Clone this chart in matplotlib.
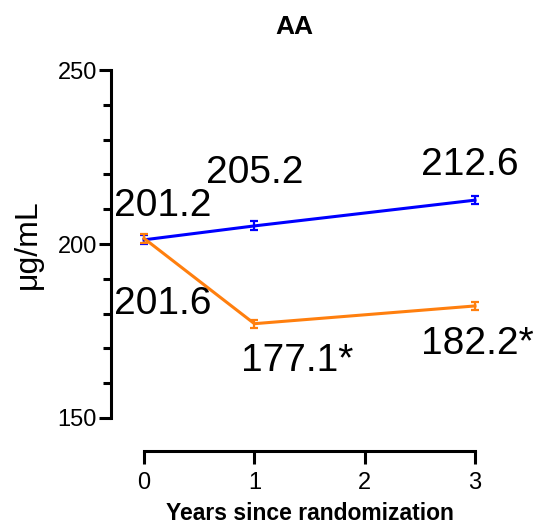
import matplotlib
matplotlib.use("Agg")
import matplotlib.pyplot as plt
from matplotlib.ticker import MultipleLocator

plt.rcParams["font.family"] = ["Liberation Sans", "DejaVu Sans"]

# ── data ───────────────────────────────────────────────────────────────────────
years = [0, 1, 3]
blue_vals = [201.2, 205.2, 212.6]
blue_err = [1.3, 1.3, 1.2]
orange_vals = [201.6, 177.1, 182.2]
orange_err = [1.2, 1.1, 1.1]
blue_labels = ["201.2", "205.2", "212.6"]
orange_labels = ["201.6", "177.1*", "182.2*"]

BLUE = "#0000FF"
ORANGE = "#FF7F0E"

# ── figure ─────────────────────────────────────────────────────────────────────
fig = plt.figure(figsize=(5.44, 5.32), dpi=100)
ax = fig.add_axes([0.204, 0.2143, 0.6793, 0.6541])

for vals, err, col in [(blue_vals, blue_err, BLUE), (orange_vals, orange_err, ORANGE)]:
    ax.errorbar(years, vals, yerr=err, color=col, lw=2.2, elinewidth=1.6,
                capsize=3, capthick=1.6, clip_on=False, zorder=3)

# value labels (offsets in points from each data point)
blue_offsets = [(13.7, 24.5), (0, 38), (-3.6, 25)]
orange_offsets = [(13.7, -47), (31, -26.6), (1.4, -27.5)]
for x, y, lab, off in zip(years, blue_vals, blue_labels, blue_offsets):
    ax.annotate(lab, (x, y), xytext=off, textcoords="offset points",
                ha="center", va="center", fontsize=28, color="black", zorder=5)
for x, y, lab, off in zip(years, orange_vals, orange_labels, orange_offsets):
    ax.annotate(lab, (x, y), xytext=off, textcoords="offset points",
                ha="center", va="center", fontsize=28, color="black", zorder=5)

ax.set_xlim(-0.3, 3.05)
ax.set_ylim(150, 250)
ax.set_xticks([0, 1, 2, 3])
ax.set_yticks([150, 200, 250])
ax.yaxis.set_minor_locator(MultipleLocator(10))

ax.spines[["top", "right"]].set_visible(False)
ax.spines["left"].set_linewidth(2.2)
ax.spines["bottom"].set_linewidth(2.2)
ax.spines["left"].set_bounds(150, 250)
ax.spines["bottom"].set_bounds(0, 3)
ax.spines["bottom"].set_position(("outward", 23.8))

ax.tick_params(axis="both", which="major", width=2.2, length=9, labelsize=17)
ax.tick_params(axis="y", which="minor", width=2.2, length=5.5)
ax.tick_params(axis="y", which="major", pad=1)
ax.tick_params(axis="x", pad=6)

ax.set_ylabel("μg/mL", fontsize=23, labelpad=11)
ax.set_xlabel("Years since randomization", fontsize=16.5, fontweight="bold", labelpad=8)
ax.xaxis.set_label_coords(0.539, -0.24)
ax.set_title("AA", fontsize=19, fontweight="bold", pad=26, x=0.495)

fig.savefig("out.png", dpi=100)
